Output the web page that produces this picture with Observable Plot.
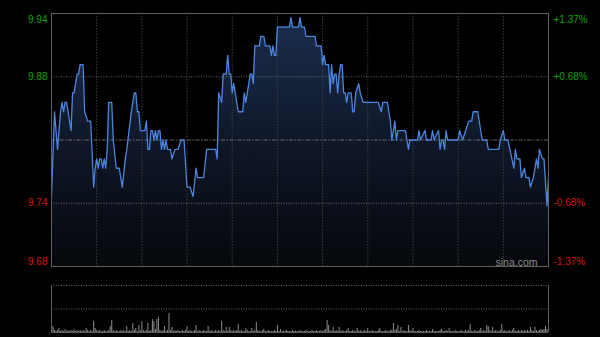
<!DOCTYPE html>
<html>
<head>
<meta charset="utf-8">
<script src="https://cdn.jsdelivr.net/npm/d3@7"></script>
<script src="https://cdn.jsdelivr.net/npm/@observablehq/plot@0.6"></script>
<style>
  html, body { margin: 0; padding: 0; background: #000; }
  #chart { width: 600px; height: 337px; background: #000; position: relative; overflow: hidden; }
  #chart svg { display: block; }
</style>
</head>
<body>
<div id="chart"></div>
<script>
// ---- data (HK intraday, 330 trading minutes) ----
const prevClose = 9.81;
const rangePct = 1.37;
const leftLabels = ["9.94", "9.88", "9.74", "9.68"];
const rightLabels = ["+1.37%", "+0.68%", "-0.68%", "-1.37%"];
const gridMinutes = [30, 60, 90, 120, 150, 180, 210, 240, 270, 300];

const priceMinutes = [
  0, 2, 4, 6, 7, 8, 9, 10, 13, 14, 15, 17, 18, 19, 21, 22, 24, 26, 28, 29,
  30, 31, 32, 33, 34, 35, 36, 37, 38, 40, 41, 43, 45, 47, 49, 50, 53, 55, 56, 57,
  58, 59, 62, 63, 64, 65, 66, 67, 68, 69, 70, 71, 72, 73, 74, 75, 76, 77, 79, 80,
  82, 84, 86, 88, 90, 92, 94, 96, 97, 101, 103, 109, 110, 111, 113, 114, 116, 117, 118, 119,
  120, 121, 122, 124, 127, 128, 129, 132, 133, 134, 135, 138, 139, 141, 142, 145, 146, 147, 148, 149,
  150, 158, 159, 160, 164, 165, 166, 168, 169, 175, 176, 179, 180, 181, 182, 184, 185, 186, 187, 188,
  189, 190, 191, 192, 193, 194, 195, 196, 197, 199, 200, 201, 202, 204, 205, 207, 217, 219, 220, 223,
  225, 226, 227, 228, 229, 230, 235, 237, 238, 243, 244, 245, 248, 249, 252, 253, 254, 257, 258, 259,
  260, 261, 262, 263, 270, 271, 273, 275, 277, 279, 280, 283, 286, 289, 290, 297, 298, 300, 301, 303,
  307, 308, 309, 311, 312, 314, 315, 317, 318, 320, 321, 322, 323, 324, 326, 327, 329, 330
];
const prices = [
  9.75, 9.84, 9.80, 9.84, 9.85, 9.84, 9.85, 9.85, 9.82, 9.86, 9.86, 9.88, 9.88, 9.89, 9.89, 9.84, 9.83, 9.83, 9.76, 9.78,
  9.79, 9.78, 9.79, 9.79, 9.78, 9.79, 9.78, 9.80, 9.85, 9.85, 9.81, 9.78, 9.78, 9.76, 9.79, 9.80, 9.84, 9.86, 9.86, 9.84,
  9.84, 9.82, 9.82, 9.83, 9.80, 9.80, 9.82, 9.82, 9.81, 9.82, 9.81, 9.82, 9.82, 9.80, 9.81, 9.80, 9.81, 9.80, 9.80, 9.79,
  9.80, 9.80, 9.81, 9.81, 9.76, 9.76, 9.75, 9.78, 9.77, 9.77, 9.80, 9.80, 9.79, 9.86, 9.85, 9.88, 9.88, 9.90, 9.88, 9.88,
  9.86, 9.87, 9.86, 9.84, 9.84, 9.86, 9.85, 9.88, 9.88, 9.87, 9.91, 9.91, 9.92, 9.92, 9.91, 9.91, 9.90, 9.91, 9.90, 9.90,
  9.93, 9.93, 9.94, 9.93, 9.93, 9.94, 9.93, 9.93, 9.92, 9.92, 9.91, 9.91, 9.89, 9.90, 9.89, 9.89, 9.86, 9.89, 9.87, 9.88,
  9.88, 9.86, 9.88, 9.89, 9.89, 9.86, 9.86, 9.85, 9.86, 9.86, 9.84, 9.84, 9.86, 9.87, 9.86, 9.85, 9.85, 9.84, 9.85, 9.85,
  9.83, 9.81, 9.82, 9.83, 9.81, 9.82, 9.82, 9.80, 9.81, 9.81, 9.82, 9.81, 9.82, 9.81, 9.81, 9.82, 9.81, 9.82, 9.80, 9.81,
  9.81, 9.80, 9.82, 9.81, 9.81, 9.82, 9.81, 9.82, 9.83, 9.83, 9.84, 9.84, 9.81, 9.81, 9.80, 9.80, 9.81, 9.82, 9.81, 9.81,
  9.78, 9.80, 9.79, 9.79, 9.77, 9.78, 9.77, 9.77, 9.76, 9.77, 9.78, 9.79, 9.78, 9.80, 9.79, 9.79, 9.74, 9.77
];

// volume per minute (arbitrary units; panel top = 47)
const volumes = [
  2, 6, 2, 1, 2, 4, 1, 2, 1, 3, 1, 2, 1, 2, 1, 3, 1, 2, 1, 2, 1, 2, 1, 4, 2, 1, 2, 1, 11, 4,
  2, 1, 2, 1, 1, 2, 1, 1, 2, 6, 12, 2, 1, 2, 1, 1, 2, 1, 2, 1, 6, 1, 2, 1, 9, 2, 4, 1, 7, 2,
  11, 2, 1, 2, 9, 1, 2, 13, 11, 3, 13, 15, 2, 1, 2, 6, 1, 2, 19, 2, 5, 1, 2, 1, 2, 1, 1, 2, 1, 2,
  6, 1, 2, 1, 1, 2, 7, 1, 2, 1, 1, 2, 1, 1, 6, 1, 2, 1, 1, 2, 1, 2, 1, 11, 2, 1, 5, 1, 5, 2,
  1, 2, 1, 2, 8, 1, 2, 1, 1, 4, 2, 1, 1, 4, 1, 2, 10, 2, 1, 1, 2, 3, 1, 1, 2, 1, 1, 1, 2, 1,
  7, 1, 3, 1, 1, 1, 2, 1, 1, 1, 2, 1, 1, 1, 1, 2, 1, 1, 1, 2, 1, 1, 1, 2, 1, 1, 2, 1, 1, 2,
  1, 2, 3, 12, 7, 2, 1, 5, 1, 2, 1, 5, 1, 2, 1, 1, 2, 4, 1, 1, 2, 1, 1, 4, 1, 2, 1, 1, 2, 1,
  4, 1, 1, 2, 1, 1, 1, 2, 4, 1, 1, 1, 2, 1, 1, 2, 2, 9, 2, 3, 7, 1, 5, 1, 2, 1, 1, 7, 2, 1,
  4, 1, 1, 1, 2, 1, 1, 1, 1, 2, 1, 1, 1, 3, 1, 1, 1, 1, 2, 3, 1, 1, 2, 1, 4, 1, 1, 1, 2, 1,
  1, 1, 2, 1, 1, 2, 1, 2, 8, 1, 1, 2, 1, 1, 2, 4, 1, 2, 1, 7, 6, 2, 1, 5, 1, 2, 1, 1, 2, 8,
  1, 2, 1, 1, 2, 1, 2, 4, 1, 1, 2, 1, 2, 1, 2, 1, 2, 1, 5, 2, 1, 5, 2, 1, 2, 3, 2, 3, 6, 3, 4
];
const volMax = 47;

// ---- derived tables ----
const lo = prevClose * (1 - rangePct / 100);
const hi = prevClose * (1 + rangePct / 100);
const levels = [hi, prevClose * (1 + rangePct / 200), prevClose * (1 - rangePct / 200), lo];
const priceData = priceMinutes.map((m, i) => ({m, p: prices[i]}));
const volData = volumes.map((v, m) => ({m, v}));
const labelRows = levels.map((y, i) => ({y, left: leftLabels[i], right: rightLabels[i], up: i < 2}));

const font = "'Liberation Sans', Arial, sans-serif";
const green = "#12a012";
const red = "#d41414";

const priceChart = Plot.plot({
  width: 600,
  height: 275,
  marginLeft: 51,
  marginRight: 52,
  marginTop: 13,
  marginBottom: 9,
  style: {background: "transparent", fontFamily: font, fontSize: "10px", overflow: "visible"},
  x: {domain: [0, 330], axis: null},
  y: {domain: [lo, hi], axis: null},
  marks: [
    Plot.areaY(priceData, {x: "m", y1: lo, y2: "p", fill: "url(#pfill)"}),
    Plot.ruleX(gridMinutes, {stroke: "#3e3e3e", strokeWidth: 1, strokeDasharray: "1.5,1.5"}),
    Plot.ruleY([levels[1], levels[2]], {stroke: "#6a6a6a", strokeWidth: 1, strokeDasharray: "1,1.5"}),
    Plot.ruleY([prevClose], {stroke: "#7a7a7a", strokeWidth: 1, strokeDasharray: "4,1.5,1.5,1.5", strokeOpacity: 0.8}),
    Plot.line(priceData, {x: "m", y: "p", stroke: "#4d85de", strokeWidth: 1.3}),
    Plot.frame({stroke: "#606060", strokeWidth: 1}),
    Plot.text(labelRows.slice(0, 1), {x: 0, y: "y", text: "left", dx: -4, dy: 2, textAnchor: "end", lineAnchor: "top", fill: green}),
    Plot.text(labelRows.slice(1, 3), {x: 0, y: "y", text: "left", dx: -4, textAnchor: "end", lineAnchor: "middle", fill: d => d.up ? green : red}),
    Plot.text(labelRows.slice(3), {x: 0, y: "y", text: "left", dx: -4, dy: -2, textAnchor: "end", lineAnchor: "bottom", fill: red}),
    Plot.text(labelRows.slice(0, 1), {x: 330, y: "y", text: "right", dx: 5, dy: 2, textAnchor: "start", lineAnchor: "top", fill: green}),
    Plot.text(labelRows.slice(1, 3), {x: 330, y: "y", text: "right", dx: 5, textAnchor: "start", lineAnchor: "middle", fill: d => d.up ? green : red}),
    Plot.text(labelRows.slice(3), {x: 330, y: "y", text: "right", dx: 5, dy: -2, textAnchor: "start", lineAnchor: "bottom", fill: red}),
    Plot.text(["sina.com"], {frameAnchor: "bottom-right", dx: -11, dy: -1, textAnchor: "end", lineAnchor: "bottom", fill: "#8a8a8a", fontSize: 10.5})
  ]
});

// gradient definition for the area fill
const defs = d3.create("svg:defs");
const grad = defs.append("linearGradient")
  .attr("id", "pfill").attr("gradientUnits", "userSpaceOnUse")
  .attr("x1", 0).attr("x2", 0).attr("y1", 13).attr("y2", 266);
grad.append("stop").attr("offset", "0").attr("stop-color", "#1b2e4e");
grad.append("stop").attr("offset", "0.55").attr("stop-color", "#0e1626");
grad.append("stop").attr("offset", "1").attr("stop-color", "#06080c");
priceChart.insertBefore(defs.node(), priceChart.firstChild);

const volChart = Plot.plot({
  width: 600,
  height: 62,
  marginLeft: 51,
  marginRight: 52,
  marginTop: 10,
  marginBottom: 5,
  style: {background: "transparent", fontFamily: font},
  x: {domain: [0, 330], axis: null},
  y: {domain: [0, volMax], axis: null},
  marks: [
    Plot.ruleY([volMax, volMax / 2], {stroke: "#6a6a6a", strokeWidth: 1, strokeDasharray: "1,1.5"}),
    Plot.ruleX(volData, {x: "m", y1: 0, y2: "v", stroke: "#8c8c8c", strokeWidth: 1}),
    Plot.ruleY([0], {stroke: "#5a5a5a", strokeWidth: 1}),
    Plot.ruleX([0, 330], {y1: 0, y2: volMax, stroke: "#606060", strokeWidth: 1})
  ]
});

const root = document.getElementById("chart");
root.appendChild(priceChart);
root.appendChild(volChart);
</script>
</body>
</html>
